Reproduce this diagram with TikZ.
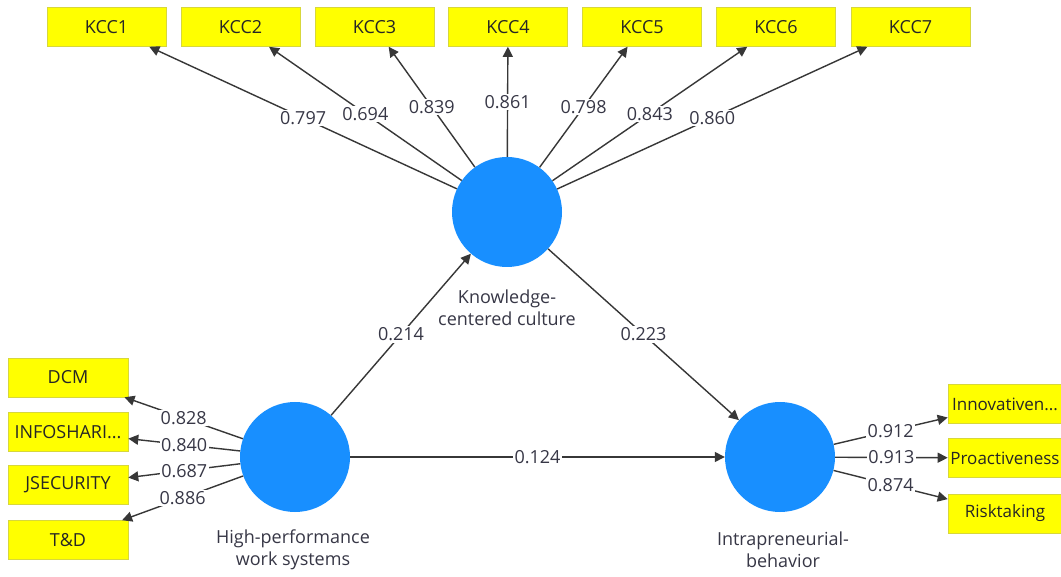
\documentclass[tikz,border=0pt]{standalone}
\usepackage{fontspec}
\setmainfont{Open Sans}
\usetikzlibrary{arrows.meta}
\definecolor{latent}{RGB}{24,143,255}
\definecolor{indic}{RGB}{255,255,0}
\definecolor{indicborder}{RGB}{215,215,60}
\definecolor{linecol}{RGB}{55,55,55}
\definecolor{txtcol}{RGB}{55,55,70}
\tikzset{
  latentvar/.style={circle, fill=latent, draw=none, minimum size=110pt, inner sep=0pt},
  indicator/.style={rectangle, fill=indic, draw=indicborder, line width=0.6pt,
    minimum width=119pt, minimum height=39pt, inner sep=0pt,
    font=\fontsize{18}{20}\selectfont, text=black!85},
  edgebox/.style={indicator, minimum width=114pt, font=\fontsize{17}{20}\selectfont},
  lvlabel/.style={align=center, font=\fontsize{18}{22}\selectfont, text=txtcol},
  conn/.style={draw=linecol, line width=1.4pt, -{Triangle[length=10pt,width=10pt]}},
  coef/.style={fill=white, inner sep=1.5pt, font=\fontsize{18}{20}\selectfont, text=txtcol}
}
\begin{document}
\begin{tikzpicture}[x=1pt, y=-1pt]
\clip (0,0) rectangle (1061,577);
\fill[white] (0,0) rectangle (1061,577);

% latent variables
\node[latentvar] (kcc)  at (507,212) {};
\node[latentvar] (hpws) at (295,457) {};
\node[latentvar] (ib)   at (780,457) {};

\node[lvlabel] (kcclab)  at (507,308) {Knowledge-\\centered culture};
\node[lvlabel] (hpwslab) at (293,550) {High-performance\\work systems};
\node[lvlabel] (iblab)   at (783,550) {Intrapreneurial-\\behavior};

% indicators of the knowledge-centered culture
\node[indicator] (k1) at (106.5,27) {KCC1};
\node[indicator] (k2) at (240.5,27) {KCC2};
\node[indicator] (k3) at (374.5,27) {KCC3};
\node[indicator] (k4) at (508,27)   {KCC4};
\node[indicator] (k5) at (642,27)   {KCC5};
\node[indicator] (k6) at (776,27)   {KCC6};
\node[indicator] (k7) at (910.5,27) {KCC7};

% indicators of high-performance work systems
\node[indicator, minimum width=120pt] (dcm)  at (68,377.5) {DCM};
\node[indicator, minimum width=120pt] (info) at (68,432)   {INFOSHARI...};
\node[indicator, minimum width=120pt] (jsec) at (68,485)   {JSECURITY};
\node[indicator, minimum width=120pt] (td)   at (68,540)   {T\&D};

% indicators of intrapreneurial behavior (boxes run to the right edge)
\node[edgebox] (inno) at (1005,404)   {Innovativen...};
\node[edgebox] (proa) at (1005,458)   {Proactiveness};
\node[edgebox] (risk) at (1005,513.5) {Risktaking};

% outer loadings
\draw[conn] (kcc) -- node[coef] {0.797} (k1);
\draw[conn] (kcc) -- node[coef] {0.694} (k2);
\draw[conn] (kcc) -- node[coef] {0.839} (k3);
\draw[conn] (kcc) -- node[coef] {0.861} (k4);
\draw[conn] (kcc) -- node[coef] {0.798} (k5);
\draw[conn] (kcc) -- node[coef] {0.843} (k6);
\draw[conn] (kcc) -- node[coef] {0.860} (k7);

\draw[conn] (hpws) -- node[coef] {0.828} (dcm);
\draw[conn] (hpws) -- node[coef] {0.840} (info);
\draw[conn] (hpws) -- node[coef] {0.687} (jsec);
\draw[conn] (hpws) -- node[coef] {0.886} (td);

\draw[conn] (ib) -- node[coef] {0.912} (inno);
\draw[conn] (ib) -- node[coef] {0.913} (proa);
\draw[conn] (ib) -- node[coef] {0.874} (risk);

% path coefficients
\draw[conn] (hpws) -- node[coef] {0.214} (kcc);
\draw[conn] (kcc)  -- node[coef] {0.223} (ib);
\draw[conn] (hpws) -- node[coef] {0.124} (ib);
\end{tikzpicture}
\end{document}
